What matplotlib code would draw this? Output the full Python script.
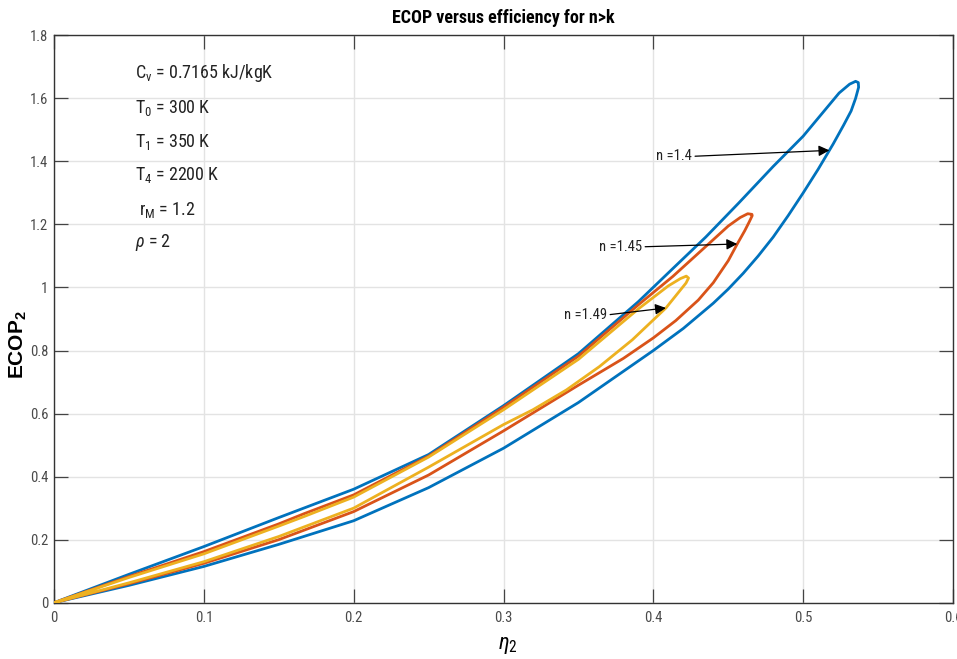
import matplotlib
matplotlib.use("Agg")
import matplotlib.pyplot as plt
from matplotlib import font_manager

# ---- data: each loop = upper branch (origin -> tip) + lower branch (tip -> origin)
n14_upper_x = [0, 0.05, 0.1, 0.15, 0.2, 0.25, 0.3, 0.35, 0.39, 0.413, 0.435, 0.457, 0.48, 0.5, 0.524, 0.531, 0.535]
n14_upper_y = [0, 0.09, 0.178, 0.27, 0.36, 0.47, 0.625, 0.79, 0.955, 1.06, 1.16, 1.268, 1.384, 1.48, 1.617, 1.645, 1.654]
n14_lower_x = [0.5368, 0.537, 0.535, 0.532, 0.527, 0.52, 0.51, 0.5, 0.49, 0.48, 0.47, 0.46, 0.45, 0.44, 0.42, 0.4, 0.35, 0.3, 0.25, 0.2, 0.15, 0.1, 0.05, 0]
n14_lower_y = [1.65, 1.635, 1.60, 1.56, 1.515, 1.455, 1.375, 1.30, 1.228, 1.16, 1.10, 1.045, 0.995, 0.95, 0.87, 0.80, 0.635, 0.49, 0.365, 0.26, 0.185, 0.115, 0.055, 0]

n145_upper_x = [0, 0.05, 0.1, 0.15, 0.1667, 0.2, 0.25, 0.3, 0.35, 0.39, 0.413, 0.435, 0.45, 0.458, 0.463]
n145_upper_y = [0, 0.083, 0.162, 0.25, 0.282, 0.342, 0.465, 0.62, 0.782, 0.945, 1.035, 1.13, 1.195, 1.222, 1.234]
n145_lower_x = [0.4658, 0.466, 0.464, 0.461, 0.456, 0.45, 0.44, 0.43, 0.415, 0.4, 0.38, 0.35, 0.3, 0.25, 0.2, 0.15, 0.1, 0.05, 0]
n145_lower_y = [1.232, 1.228, 1.208, 1.18, 1.138, 1.085, 1.015, 0.96, 0.895, 0.84, 0.775, 0.69, 0.545, 0.405, 0.289, 0.20, 0.125, 0.06, 0]

n149_upper_x = [0, 0.05, 0.1, 0.15, 0.1667, 0.2, 0.25, 0.3, 0.35, 0.39, 0.41, 0.418, 0.422]
n149_upper_y = [0, 0.08, 0.155, 0.243, 0.273, 0.335, 0.462, 0.612, 0.772, 0.932, 1.005, 1.028, 1.036]
n149_lower_x = [0.4235, 0.4218, 0.4084, 0.386, 0.364, 0.342, 0.3196, 0.3, 0.25, 0.2, 0.15, 0.1, 0.05, 0]
n149_lower_y = [1.03, 1.014, 0.935, 0.834, 0.749, 0.675, 0.612, 0.565, 0.43, 0.30, 0.21, 0.13, 0.063, 0]

series_labels = ["n =1.4", "n =1.45", "n =1.49"]
series_colors = ["#0072BD", "#D95319", "#EDB120"]

# arrow targets on each loop and the point where each label ends
arrow_tips = [(0.5175, 1.435), (0.456, 1.138), (0.4084, 0.935)]
label_ends = [(0.426, 1.416), (0.3927, 1.129), (0.3693, 0.913)]

param_lines = [
    r"$\mathregular{C_v}$ = 0.7165 kJ/kgK",
    r"$\mathregular{T_0}$ = 300 K",
    r"$\mathregular{T_1}$ = 350 K",
    r"$\mathregular{T_4}$ = 2200 K",
    r" $\mathregular{r_M}$ = 1.2",
    r"$\rho$ = 2",
]
param_y = [1.666, 1.554, 1.446, 1.341, 1.231, 1.129]

x_ticks = [0, 0.1, 0.2, 0.3, 0.4, 0.5, 0.6]
x_tick_labels = ["0", "0.1", "0.2", "0.3", "0.4", "0.5", "0.6"]
y_ticks = [0, 0.2, 0.4, 0.6, 0.8, 1.0, 1.2, 1.4, 1.6, 1.8]
y_tick_labels = ["0", "0.2", "0.4", "0.6", "0.8", "1", "1.2", "1.4", "1.6", "1.8"]

# ---- fonts: prefer a condensed sans face when one is available
installed = {f.name for f in font_manager.fontManager.ttflist}
candidates = ["Liberation Sans Narrow", "Roboto Condensed", "Open Sans Condensed",
              "DejaVu Sans Condensed", "Noto Sans Condensed", "Liberation Sans"]
face = next((c for c in candidates if c in installed), "DejaVu Sans")
condensed = face != "Liberation Sans" and face != "DejaVu Sans"
k = 1.0 if condensed else 0.88
wide = "Liberation Sans" if "Liberation Sans" in installed else "DejaVu Sans"
plt.rcParams["font.family"] = [face, "DejaVu Sans"]
plt.rcParams["mathtext.fontset"] = "custom"
plt.rcParams["mathtext.rm"] = face
plt.rcParams["mathtext.it"] = face + ":italic"
plt.rcParams["mathtext.bf"] = face + ":bold"

W, H = 957, 659
fig = plt.figure(figsize=(W / 100, H / 100), dpi=100)
ax = fig.add_axes([54 / W, 1 - 602.7 / H, (953 - 54) / W, (602.7 - 35.3) / H])

loops = [
    (n14_upper_x + n14_lower_x, n14_upper_y + n14_lower_y),
    (n145_upper_x + n145_lower_x, n145_upper_y + n145_lower_y),
    (n149_upper_x + n149_lower_x, n149_upper_y + n149_lower_y),
]
for (lx, ly), c in zip(loops, series_colors):
    ax.plot(lx, ly, color=c, lw=2.0, solid_joinstyle="round", zorder=3)

ax.set_xlim(0, 0.6)
ax.set_ylim(0, 1.8)
ax.set_xticks(x_ticks)
ax.set_xticklabels(x_tick_labels)
ax.set_yticks(y_ticks)
ax.set_yticklabels(y_tick_labels)
ax.grid(True, color="#e3e3e3", lw=1.0)
ax.set_axisbelow(True)
ax.tick_params(direction="in", length=10, width=0.9, color="#444444",
               labelsize=10.5 * k, labelcolor="#4a4a4a", top=True, right=True)
ax.tick_params(axis="x", pad=6)
ax.tick_params(axis="y", pad=4)
for s in ax.spines.values():
    s.set_color("#333333")
    s.set_linewidth(1.0)

for lbl, tip, end in zip(series_labels, arrow_tips, label_ends):
    ax.annotate(lbl, xy=tip, xytext=end, ha="right", va="center",
                fontsize=10.5 * k, color="#222222",
                arrowprops=dict(arrowstyle="-|>", color="black", lw=0.9,
                                mutation_scale=16, shrinkA=0, shrinkB=0,
                                relpos=(1.0, 0.5)), zorder=5)

for txt, yy in zip(param_lines, param_y):
    ax.text(0.054, yy, txt, fontsize=13 * k, color="#222222", ha="left", va="baseline")

ax.set_title("ECOP versus efficiency for n>k", fontsize=13 * k, fontweight="bold", pad=9)
fig.text(18 / W, 1 - 345 / H, r"$\mathdefault{ECOP_2}$", rotation=90, fontsize=15,
         family=wide, fontweight="bold", ha="center", va="center")
fig.text(508 / W, 1 - 645 / H, r"$\eta_2$", fontsize=16, ha="center", va="center")

fig.savefig("out.png", dpi=100)
